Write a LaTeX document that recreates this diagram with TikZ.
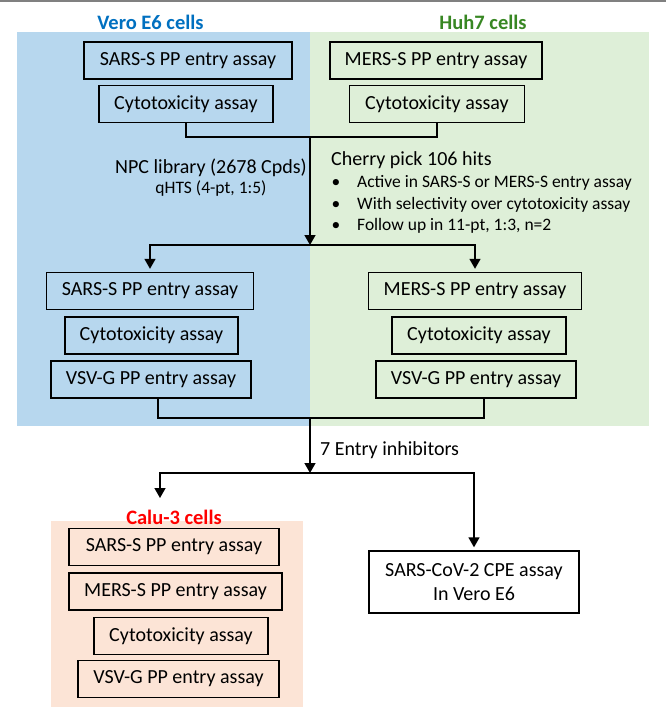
\documentclass[tikz,border=0pt]{standalone}
\usepackage{fontspec}
\setmainfont{Carlito}
\usetikzlibrary{arrows.meta, positioning}
\definecolor{verofill}{RGB}{183,215,238}
\definecolor{huhfill}{RGB}{222,239,216}
\definecolor{calufill}{RGB}{252,228,214}
\definecolor{veroblue}{RGB}{0,112,192}
\definecolor{huhgreen}{RGB}{56,135,35}
\definecolor{calured}{RGB}{255,0,0}
\definecolor{rulegray}{RGB}{128,128,128}

\tikzset{
  assay/.style={draw=black, line width=1.4pt, minimum height=37pt, inner sep=0pt,
    font=\fontsize{20}{24}\selectfont},
  celltitle/.style={font=\fontsize{20.5}{24}\selectfont\bfseries},
  note/.style={font=\fontsize{20}{24}\selectfont, inner sep=0pt},
  smallnote/.style={font=\fontsize{17.5}{21}\selectfont, inner sep=0pt},
  flow/.style={line width=1.5pt},
  flowarrow/.style={flow, -{Triangle[width=11pt,length=10pt]}},
}

\begin{document}
\begin{tikzpicture}[x=1pt, y=-1pt]
    \useasboundingbox (0,0) rectangle (666,709);
    \draw[rulegray, line width=2pt] (0,1) -- (666,1);

    % Cell line panels
    \fill[verofill] (17,32) rectangle (310,426);
    \fill[huhfill] (310,32) rectangle (649,426);
    \fill[calufill] (51,521) rectangle (303,707);

    \node[celltitle, text=veroblue] (veroT) at (150.5,22) {Vero E6 cells};
    \node[celltitle, text=huhgreen] (huhT) at (483,22) {Huh7 cells};
    \node[celltitle, text=calured] (caluT) at (174,517) {Calu-3 cells};

    % Primary screen
    \node[assay, minimum width=208pt] (sarsA) at (188,60.5) {SARS-S PP entry assay};
    \node[assay, minimum width=212pt] (mersA) at (436,60.5) {MERS-S PP entry assay};
    \node[assay, minimum width=174pt] (cytoA1) at (186,104) {Cytotoxicity assay};
    \node[assay, minimum width=175pt] (cytoA2) at (437,104) {Cytotoxicity assay};

    \coordinate (join1) at (310,137);
    \coordinate (split1) at (310,245);
    \draw[flow] (cytoA1.south) |- (join1) -| (cytoA2.south);
    \draw[flowarrow] (join1) -- (split1);

    \node[note, align=center] (npc) at (211,178)
        {NPC library (2678 Cpds)\\[-4pt]{\fontsize{17.5}{21}\selectfont qHTS (4-pt, 1:5)}};
    \node[note, anchor=west] (cherry) at (331,160) {Cherry pick 106 hits};
    \node[smallnote] (dot1) at (336,183) {\textbullet};
    \node[smallnote] (dot2) at (336,205) {\textbullet};
    \node[smallnote] (dot3) at (336,226) {\textbullet};
    \node[smallnote, anchor=west] (pick1) at (357,183) {Active in SARS-S or MERS-S entry assay};
    \node[smallnote, anchor=west] (pick2) at (357,205) {With selectivity over cytotoxicity assay};
    \node[smallnote, anchor=west] (pick3) at (357,226) {Follow up in 11-pt, 1:3, n=2};

    % Follow-up
    \node[assay, minimum width=207pt] (sarsB) at (150,291) {SARS-S PP entry assay};
    \node[assay, minimum width=173pt] (cytoB1) at (151.5,335.5) {Cytotoxicity assay};
    \node[assay, minimum width=200pt] (vsvB1) at (151,379.5) {VSV-G PP entry assay};
    \node[assay, minimum width=213pt] (mersB) at (475,291) {MERS-S PP entry assay};
    \node[assay, minimum width=174pt] (cytoB2) at (479,335.5) {Cytotoxicity assay};
    \node[assay, minimum width=200pt] (vsvB2) at (476,379.5) {VSV-G PP entry assay};

    \draw[flowarrow, shorten >=3pt] (split1) -| (sarsB.north);
    \draw[flowarrow, shorten >=3pt] (split1) -| (mersB.north);

    \coordinate (join2) at (310,418);
    \coordinate (split2) at (310,473);
    \draw[flow] ([xshift=7pt]vsvB1.south) |- (join2) -| ([xshift=8pt]vsvB2.south);
    \draw[flowarrow] (join2) -- (split2);
    \node[note, anchor=west] (hits) at (320,450) {7 Entry inhibitors};

    % Secondary assays
    \node[assay, minimum width=210pt] (sarsC) at (174,547) {SARS-S PP entry assay};
    \node[assay, minimum width=213pt] (mersC) at (175.5,591.5) {MERS-S PP entry assay};
    \node[assay, minimum width=174pt] (cytoC) at (181,636) {Cytotoxicity assay};
    \node[assay, minimum width=201pt] (vsvC) at (178.5,679) {VSV-G PP entry assay};
    \node[assay, minimum width=210pt, minimum height=62pt, align=center] (cpe) at (474,582)
        {SARS-CoV-2 CPE assay\\In Vero E6};

    \coordinate (caluIn) at (160,498);
    \draw[flowarrow] (split2) -| (caluIn);
    \draw[flowarrow, shorten >=3pt] (split2) -| (cpe.north);
\end{tikzpicture}
\end{document}
